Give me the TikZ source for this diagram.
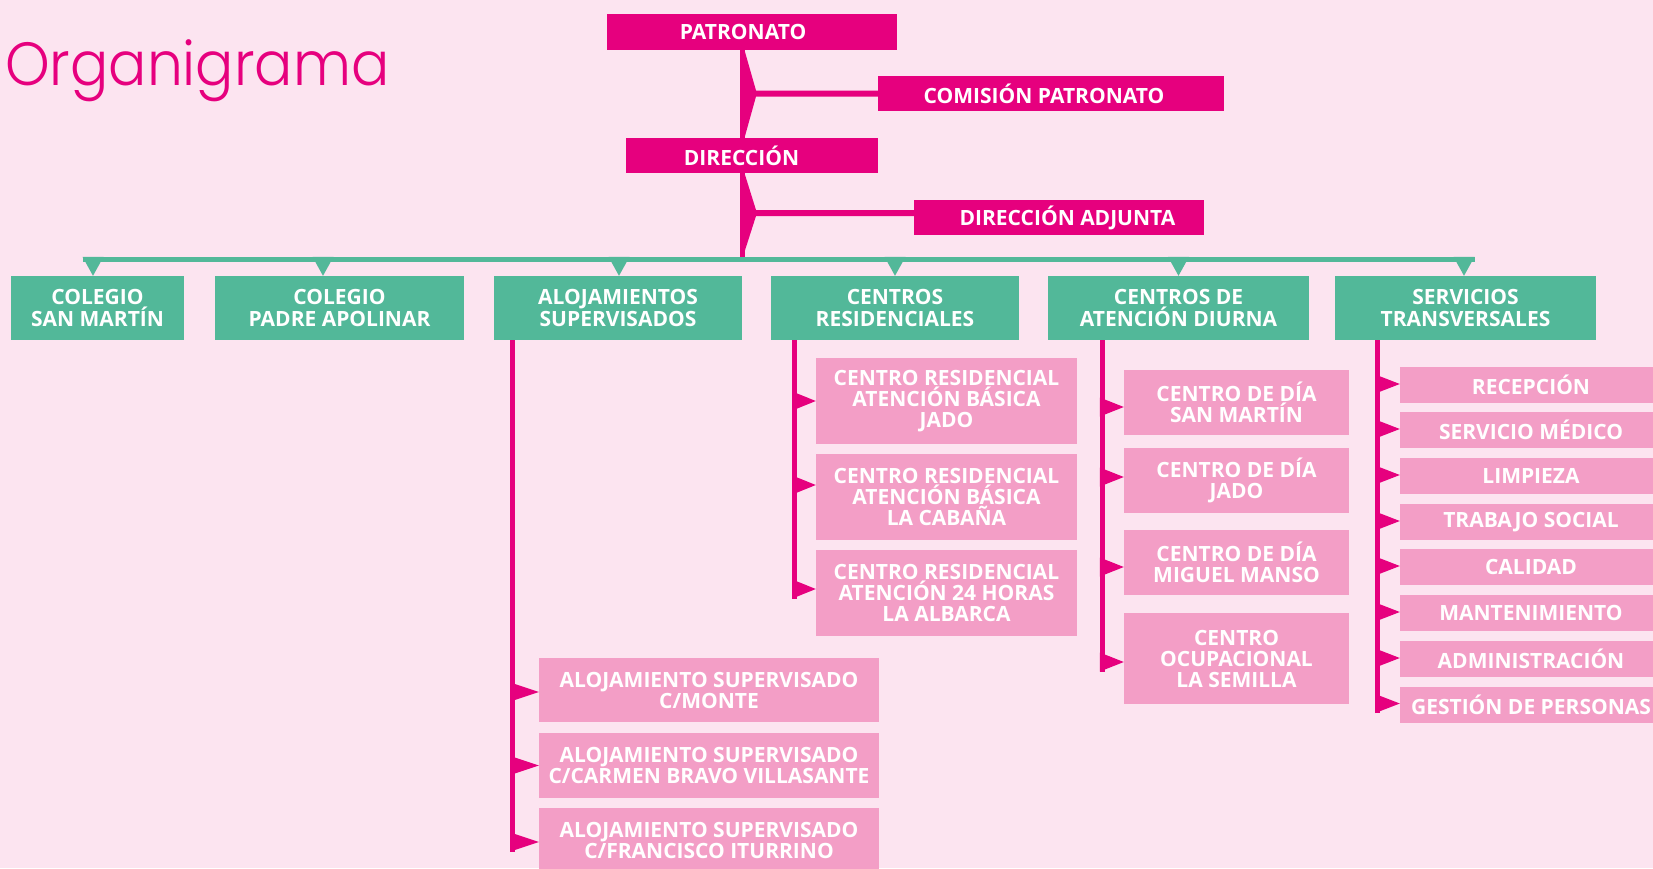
\documentclass[tikz,border=0pt]{standalone}
\usepackage{fontspec}
\setmainfont{Open Sans}
\newfontfamily\titlefont{Poppins Light}[FakeStretch=0.93]
\usetikzlibrary{calc}
\definecolor{bgpink}{HTML}{FCE4F0}
\definecolor{mag}{HTML}{E6007E}
\definecolor{verde}{HTML}{52B899}
\definecolor{rosa}{HTML}{F39EC6}

\begin{document}
\begin{tikzpicture}[x=1pt, y=-1pt,
    box/.style={inner sep=0pt, text=white, align=center, font=\bfseries\fontsize{21}{21}\selectfont},
    topbox/.style={box, fill=mag, minimum height=35pt},
    tx/.style={execute at begin node={\hspace*{#1}}},
    areabox/.style={box, fill=verde, minimum height=64pt, font=\bfseries\fontsize{21}{22}\selectfont},
    subbox/.style={box, fill=rosa}]
    \clip (0,0) rectangle (1653,868);
    \fill[bgpink] (0,0) rectangle (1653,868);

    \node[anchor=base west, inner sep=0pt, text=mag, font=\titlefont\fontsize{61}{61}\selectfont] (title) at (5,85) {Organigrama};

    % cabecera
    \node[topbox, tx=-18pt, minimum width=290pt, minimum height=36pt] (pat) at (752,32) {PATRONATO};
    \node[topbox, tx=-14pt, minimum width=346pt] (com) at (1051,93.5) {COMISIÓN PATRONATO};
    \node[topbox, tx=-21pt, minimum width=252pt] (dir) at (752,155.5) {DIRECCIÓN};
    \node[topbox, tx=17pt, minimum width=290pt] (adj) at (1059,217.5) {DIRECCIÓN ADJUNTA};

    % areas
    \node[areabox, minimum width=173pt] (col1) at (97.5,308) {COLEGIO\\SAN MARTÍN};
    \node[areabox, minimum width=249pt] (col2) at (339.5,308) {COLEGIO\\PADRE APOLINAR};
    \node[areabox, minimum width=248pt] (aloj) at (618,308) {ALOJAMIENTOS\\SUPERVISADOS};
    \node[areabox, minimum width=248pt] (cres) at (895,308) {CENTROS\\RESIDENCIALES};
    \node[areabox, minimum width=261pt] (cad) at (1178.5,308) {CENTROS DE\\ATENCIÓN DIURNA};
    \node[areabox, minimum width=261pt] (serv) at (1465.5,308) {SERVICIOS\\TRANSVERSALES};

    % alojamientos
    \node[subbox, minimum width=340pt, minimum height=64pt] (a1) at (709,690) {ALOJAMIENTO SUPERVISADO\\C/MONTE};
    \node[subbox, minimum width=340pt, minimum height=65pt] (a2) at (709,765.5) {ALOJAMIENTO SUPERVISADO\\C/CARMEN BRAVO VILLASANTE};
    \node[subbox, minimum width=340pt, minimum height=64pt] (a3) at (709,840) {ALOJAMIENTO SUPERVISADO\\C/FRANCISCO ITURRINO};

    % centros residenciales
    \node[subbox, minimum width=261pt, minimum height=86pt] (r1) at (946.5,401) {CENTRO RESIDENCIAL\\ATENCIÓN BÁSICA\\JADO};
    \node[subbox, minimum width=261pt, minimum height=86pt] (r2) at (946.5,497) {CENTRO RESIDENCIAL\\ATENCIÓN BÁSICA\\LA CABAÑA};
    \node[subbox, minimum width=261pt, minimum height=86pt] (r3) at (946.5,593) {CENTRO RESIDENCIAL\\ATENCIÓN 24 HORAS\\LA ALBARCA};

    % atencion diurna
    \node[subbox, minimum width=225pt, minimum height=65pt] (d1) at (1236.5,402.5) {CENTRO DE DÍA\\SAN MARTÍN};
    \node[subbox, minimum width=225pt, minimum height=65pt] (d2) at (1236.5,480.5) {CENTRO DE DÍA\\JADO};
    \node[subbox, minimum width=225pt, minimum height=65pt] (d3) at (1236.5,562.5) {CENTRO DE DÍA\\MIGUEL MANSO};
    \node[subbox, minimum width=225pt, minimum height=91pt] (d4) at (1236.5,658.5) {CENTRO\\OCUPACIONAL\\LA SEMILLA};

    % servicios transversales
    \node[subbox, minimum width=262pt, minimum height=36pt] (s1) at (1531,385) {RECEPCIÓN};
    \node[subbox, minimum width=262pt, minimum height=36pt] (s2) at (1531,430) {SERVICIO MÉDICO};
    \node[subbox, minimum width=262pt, minimum height=36pt] (s3) at (1531,476) {LIMPIEZA};
    \node[subbox, minimum width=262pt, minimum height=36pt] (s4) at (1531,522) {TRABAJO SOCIAL};
    \node[subbox, minimum width=262pt, minimum height=36pt] (s5) at (1531,567) {CALIDAD};
    \node[subbox, minimum width=262pt, minimum height=36pt] (s6) at (1531,613) {MANTENIMIENTO};
    \node[subbox, minimum width=262pt, minimum height=36pt] (s7) at (1531,659) {ADMINISTRACIÓN};
    \node[subbox, minimum width=262pt, minimum height=36pt] (s8) at (1531,704.5) {GESTIÓN DE PERSONAS};

    % eje principal
    \coordinate (sp) at ($(pat.south)+(-10,0)$);
    \fill[mag] ($(sp)+(-2.5,0)$) rectangle ($(sp |- dir.north)+(2.5,0)$);
    \fill[mag] ($(sp |- dir.south)+(-2.5,0)$) rectangle ($(sp |- col1.north)+(2.5,-19)$);
    \fill[mag] ($(sp)+(2.5,0)$) -- ($(sp |- com.west)+(14,-3)$) -- ($(com.west)+(0,-3)$) -- ($(com.west)+(0,3)$)
        -- ($(sp |- com.west)+(14,3)$) -- ($(sp |- dir.north)+(2.5,0)$) -- cycle;
    \fill[mag] ($(sp |- dir.south)+(2.5,0)$) -- ($(sp |- adj.west)+(14,-7.5)$) -- ($(adj.west)+(0,-7.5)$) -- ($(adj.west)+(0,-1.5)$)
        -- ($(sp |- adj.west)+(14,-1.5)$) -- ($(sp |- col1.north)+(2.5,-24)$) -- cycle;

    % barra verde
    \fill[verde] ($(col1.north)+(-15,-19)$) rectangle ($(serv.north)+(9,-14)$);
    \foreach \b/\dx in {col1/-4.5, col2/-16.5, aloj/1, cres/0, cad/0, serv/-1.5}
        \fill[verde] ($(\b.north)+({\dx-10.5},-19)$) -- ($(\b.north)+({\dx+10.5},-19)$) -- ($(\b.north)+(\dx,0)$) -- cycle;

    % ramas
    \coordinate (sa) at ($(aloj.south west)+(19,0)$);
    \coordinate (sr) at ($(cres.south west)+(24,0)$);
    \coordinate (sd) at ($(cad.south west)+(54.5,0)$);
    \coordinate (ss) at ($(serv.south west)+(43,0)$);
    \fill[mag] ($(sa)+(-2.5,0)$) rectangle ($(sa |- a3.west)+(2.5,11.5)$);
    \fill[mag] ($(sr)+(-2.5,0)$) rectangle ($(sr |- r3.west)+(2.5,5.5)$);
    \fill[mag] ($(sd)+(-2.5,0)$) rectangle ($(sd |- d4.west)+(2.5,13)$);
    \fill[mag] ($(ss)+(-2.5,0)$) rectangle ($(ss |- s8.west)+(2.5,8.5)$);
    \foreach \b/\dy in {a1/2, a2/0, a3/2}
        \fill[mag] ($(\b.west)+(0,\dy)$) -- ($(sa |- \b.west)+(-2.5,{\dy-9.5})$) -- ($(sa |- \b.west)+(-2.5,{\dy+9.5})$) -- cycle;
    \foreach \b/\dy in {r1/0, r2/-12, r3/-4}
        \fill[mag] ($(\b.west)+(0,\dy)$) -- ($(sr |- \b.west)+(-2.5,{\dy-9.5})$) -- ($(sr |- \b.west)+(-2.5,{\dy+9.5})$) -- cycle;
    \foreach \b/\dy in {d1/4.5, d2/-3.5, d3/4.5, d4/3.5}
        \fill[mag] ($(\b.west)+(0,\dy)$) -- ($(sd |- \b.west)+(-2.5,{\dy-9.5})$) -- ($(sd |- \b.west)+(-2.5,{\dy+9.5})$) -- cycle;
    \foreach \b/\dy in {s1/-1, s2/-1, s3/-1, s4/-1, s5/-1, s6/-1, s7/-1, s8/-1}
        \fill[mag] ($(\b.west)+(0,\dy)$) -- ($(ss |- \b.west)+(-2.5,{\dy-9.5})$) -- ($(ss |- \b.west)+(-2.5,{\dy+9.5})$) -- cycle;
\end{tikzpicture}
\end{document}
